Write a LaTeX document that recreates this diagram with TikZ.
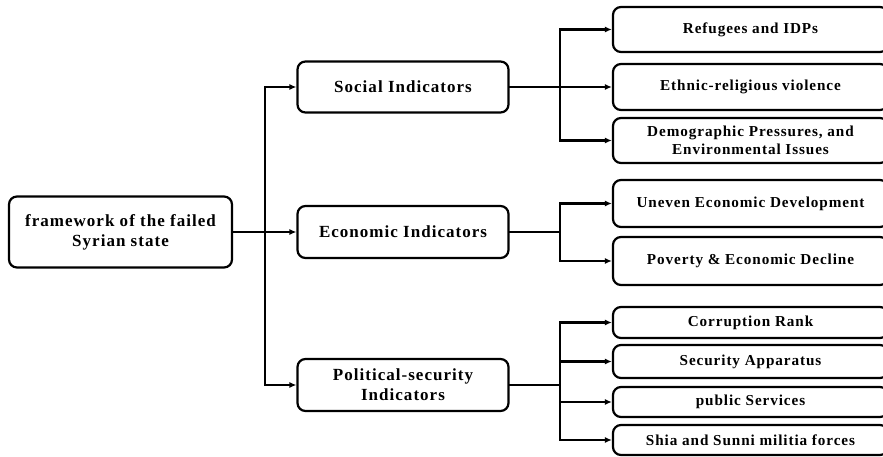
\documentclass[tikz,border=0pt]{standalone}
\usepackage{fontspec}
\setmainfont{Liberation Serif}[LetterSpace=6]
\usetikzlibrary{arrows.meta}
\begin{document}
\begin{tikzpicture}[x=1pt,y=-1pt,
  box/.style={draw=black, line width=2.2pt, rounded corners=8pt, align=center,
    font=\fontsize{17}{20}\selectfont\bfseries, inner sep=0pt},
  leaf/.style={box, minimum width=275pt, font=\fontsize{15.2}{18.5}\selectfont\bfseries},
  conn/.style={line width=2.2pt, line cap=rect},
  arr/.style={line width=2.2pt, -{Latex[length=7pt,width=6pt]}}]
\clip (0,0) rectangle (883,457);
\useasboundingbox (0,0) rectangle (883,457);
\node[box, minimum width=223pt, minimum height=71pt] (root) at (120.5,232) {framework of the failed\\Syrian state};
\node[box, minimum width=211pt, minimum height=51pt] (soc) at (403,87) {Social Indicators};
\node[box, minimum width=211pt, minimum height=52pt] (eco) at (403,232) {Economic Indicators};
\node[box, minimum width=211pt, minimum height=52pt] (pol) at (403,385) {Political-security\\Indicators};
\node[leaf, minimum height=45pt] (r1) at (750.5,29.5) {Refugees and IDPs};
\node[leaf, minimum height=46pt] (r2) at (750.5,87) {Ethnic-religious violence};
\node[leaf, minimum height=45pt] (r3) at (750.5,140.5) {Demographic Pressures, and\\Environmental Issues};
\node[leaf, minimum height=47pt] (e1) at (750.5,203.5) {Uneven Economic Development};
\node[leaf, minimum height=48pt] (e2) at (750.5,261) {Poverty \& Economic Decline};
\node[leaf, minimum height=31pt] (p1) at (750.5,322.5) {Corruption Rank};
\node[leaf, minimum height=33pt] (p2) at (750.5,361.5) {Security Apparatus};
\node[leaf, minimum height=30pt] (p3) at (750.5,402) {public Services};
\node[leaf, minimum height=30pt] (p4) at (750.5,440) {Shia and Sunni militia forces};
\coordinate (tk) at (265,232);
\coordinate (bs) at (560,87);
\coordinate (be) at (560,232);
\coordinate (bp) at (560,385);
% trunk
\draw[conn] (tk |- soc.west) -- (tk |- pol.west);
\draw[conn] (root.east) -- (tk);
\draw[arr] (tk) -- (eco.west);
\draw[arr] (tk |- soc.west) -- (soc.west);
\draw[arr] (tk |- pol.west) -- (pol.west);
% social
\draw[conn] (soc.east) -- (bs);
\draw[conn] (bs |- r1.west) -- (bs |- r3.west);
\draw[arr] (bs |- r1.west) -- (r1.west);
\draw[arr] (bs) -- (r2.west);
\draw[arr] (bs |- r3.west) -- (r3.west);
% economic
\draw[conn] (eco.east) -- (be);
\draw[conn] (be |- e1.west) -- (be |- e2.west);
\draw[arr] (be |- e1.west) -- (e1.west);
\draw[arr] (be |- e2.west) -- (e2.west);
% political
\draw[conn] (pol.east) -- (bp);
\draw[conn] (bp |- p1.west) -- (bp |- p4.west);
\draw[arr] (bp |- p1.west) -- (p1.west);
\draw[arr] (bp |- p2.west) -- (p2.west);
\draw[arr] (bp |- p3.west) -- (p3.west);
\draw[arr] (bp |- p4.west) -- (p4.west);
\end{tikzpicture}
\end{document}
